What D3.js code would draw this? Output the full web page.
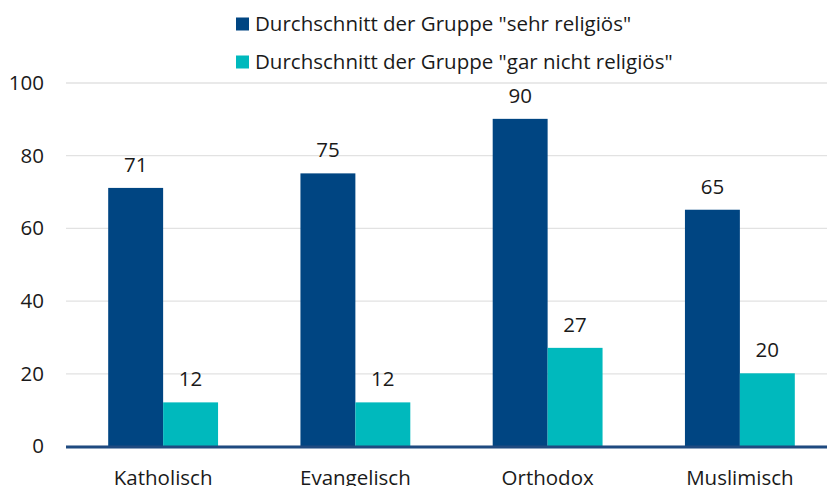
<!DOCTYPE html>
<html>
<head>
<meta charset="utf-8">
<script src="https://cdn.jsdelivr.net/npm/d3@7"></script>
<style>
  body { margin: 0; background: #fff; overflow: hidden; }
  svg text { font-family: "Open Sans", sans-serif; fill: #1a1a1a; }
</style>
</head>
<body>
<div id="container"></div>
<script>
// data
let categories = ["Katholisch", "Evangelisch", "Orthodox", "Muslimisch"];
let seriesNames = ['Durchschnitt der Gruppe "sehr religiös"', 'Durchschnitt der Gruppe "gar nicht religiös"'];
let sehrReligioes = [71, 75, 90, 65];
let garNichtReligioes = [12, 12, 27, 20];
let yTicks = [0, 20, 40, 60, 80, 100];
let colors = ["#004582", "#00b9bd"];

let width = 827, height = 486;
let fontSize = '20.5px';

let svg = d3.select('#container')
    .append('svg')
    .attr("width", width)
    .attr("height", height);

let x = d3.scaleBand()
    .domain(categories)
    .range([67, 836]);

let xInner = d3.scaleBand()
    .domain([0, 1])
    .range([0, x.bandwidth()])
    .paddingInner(0)
    .paddingOuter(0.75);

let y = d3.scaleLinear()
    .domain([0, 100])
    .range([446, 82.5]);

// gridlines + y labels
let yAxis = svg.append('g')
    .attr('transform', 'translate(66,0)')
    .call(d3.axisLeft(y).tickValues(yTicks).tickSize(-(width - 66)).tickPadding(22));
yAxis.select('.domain').remove();
yAxis.selectAll('.tick line').attr('stroke', '#e2e2e2').attr('stroke-width', 1.3);
yAxis.selectAll('.tick text')
    .style('font-size', fontSize)
    .attr('fill', '#1a1a1a')
    .attr('dy', '0.34em');

// bars
let series = [sehrReligioes, garNichtReligioes];
series.forEach((vals, s) => {
    let g = svg.append('g');
    g.selectAll('rect')
        .data(vals)
        .enter()
        .append('rect')
        .attr('x', (d, i) => x(categories[i]) + xInner(s))
        .attr('y', d => y(d))
        .attr('width', xInner.bandwidth())
        .attr('height', d => y(0) - y(d))
        .attr('fill', colors[s]);

    g.selectAll('text')
        .data(vals)
        .enter()
        .append('text')
        .attr('x', (d, i) => x(categories[i]) + xInner(s) + xInner.bandwidth() / 2)
        .attr('y', d => y(d) - 16)
        .attr('text-anchor', 'middle')
        .style('font-size', fontSize)
        .text(d => d);
});

// baseline
svg.append('line')
    .attr('x1', 66)
    .attr('x2', width)
    .attr('y1', y(0) + 1)
    .attr('y2', y(0) + 1)
    .attr('stroke', '#1f4a80')
    .attr('stroke-width', 3);

// x labels
let xAxis = svg.append('g')
    .attr('transform', 'translate(0,' + y(0) + ')')
    .call(d3.axisBottom(x).tickSize(0).tickPadding(24));
xAxis.select('.domain').remove();
xAxis.selectAll('.tick text')
    .style('font-size', fontSize)
    .attr('fill', '#1a1a1a');

// legend
let legend = svg.append('g');
seriesNames.forEach((name, i) => {
    let ly = 24 + i * 38;
    legend.append('rect')
        .attr('x', 236)
        .attr('y', ly - 6.5)
        .attr('width', 13)
        .attr('height', 13)
        .attr('fill', colors[i]);
    legend.append('text')
        .attr('x', 255)
        .attr('y', ly)
        .attr('dy', '0.35em')
        .style('font-size', fontSize)
        .text(name);
});
</script>
</body>
</html>
